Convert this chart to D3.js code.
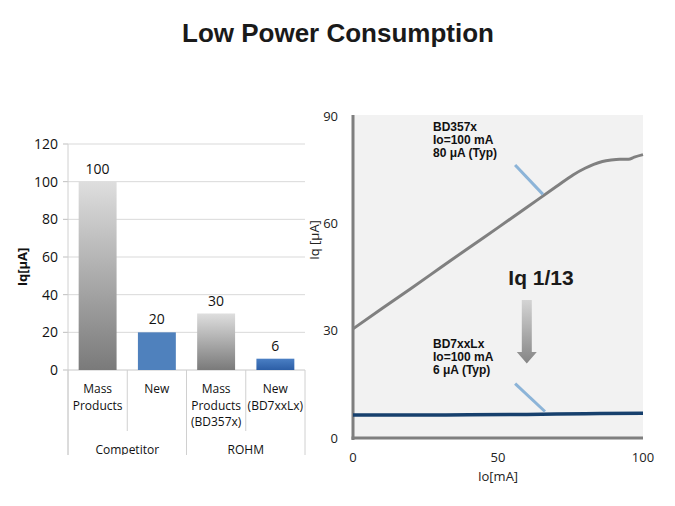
<!DOCTYPE html>
<html><head><meta charset="utf-8">
<script src="https://cdn.jsdelivr.net/npm/d3@7"></script>
<style>body{margin:0;background:#fff}svg{display:block}</style>
</head><body>
<script>
// ---- data ----
const title = "Low Power Consumption";
const barCategories = [["Mass","Products"],["New"],["Mass","Products","(BD357x)"],["New","(BD7xxLx)"]];
const barValues = [100, 20, 30, 6];
const barStyles = ["grayGrad","blue","grayGrad","blueGrad"];
const groups = ["Competitor","ROHM"];
const barTicks = [0,20,40,60,80,100,120];

const lineTicksY = [0,30,60,90];
const lineTicksX = [0,50,100];
const bd357x = [[0,30.5],[10,36.2],[20,41.8],[30,47.5],[40,53.2],[50,58.8],[60,64.5],[70,70.2],[76,73.6],[80,75.4],[83,76.5],[86,77.3],[89,77.7],[92,77.9],[95,77.9],[97,78.5],[100,79.2]];
const bd7xxlx = [[0,6.4],[20,6.4],[40,6.5],[60,6.6],[80,6.8],[100,6.9]];
const noteTop = ["BD357x","Io=100 mA","80 μA  (Typ)"];
const noteBottom = ["BD7xxLx","Io=100 mA","6 μA (Typ)"];
const pointerTop = [[55.9,76.3],[65.5,68.1]];
const pointerBottom = [[55.9,15.2],[66.2,7.4]];

const W = 675, H = 506;
const svg = d3.select("body").append("svg").attr("width", W).attr("height", H);
const defs = svg.append("defs");
function vgrad(id, top, bottom){
  const g = defs.append("linearGradient").attr("id", id).attr("x1",0).attr("y1",0).attr("x2",0).attr("y2",1);
  g.append("stop").attr("offset","0%").attr("stop-color", top);
  g.append("stop").attr("offset","100%").attr("stop-color", bottom);
}
vgrad("grayGrad", "#dedede", "#7a7a7a");
vgrad("blueGrad", "#4a7fc4", "#2c5ea6");
vgrad("arrowGrad", "#d4d4d4", "#858585");

// ---- title ----
svg.append("text").attr("x", 338).attr("y", 41.5).attr("text-anchor","middle")
  .attr("font-family","'Liberation Sans', Arial, sans-serif").attr("font-weight","bold")
  .attr("font-size", 26).attr("fill","#1a1a1a").text(title);

// ---- left bar chart ----
const bx = d3.scaleBand().domain(d3.range(barValues.length)).range([68, 305]).paddingInner(0.36).paddingOuter(0.18);
const by = d3.scaleLinear().domain([0,120]).range([370, 144]);
const L = svg.append("g");
const fontL = "'Open Sans', sans-serif";

L.selectAll("line.grid").data(barTicks.filter(d=>d>0)).join("line")
  .attr("x1", 68).attr("x2", 305).attr("y1", d=>by(d)).attr("y2", d=>by(d))
  .attr("stroke","#d9d9d9").attr("stroke-width",1);
L.selectAll("line.tk").data(barTicks).join("line")
  .attr("x1", 63).attr("x2", 68).attr("y1", d=>by(d)).attr("y2", d=>by(d))
  .attr("stroke","#bfbfbf");
L.append("line").attr("x1",68).attr("x2",68).attr("y1",by(120)).attr("y2",455).attr("stroke","#d0d0d0");
L.append("line").attr("x1",68).attr("x2",305).attr("y1",by(0)).attr("y2",by(0)).attr("stroke","#c8c8c8");
L.selectAll("text.tick").data(barTicks).join("text")
  .attr("x", 58).attr("y", d=>by(d)).attr("dy","0.36em").attr("text-anchor","end")
  .attr("font-family", fontL).attr("font-size", 14).attr("fill","#111").text(d=>d);

const fills = {grayGrad:"url(#grayGrad)", blue:"#4f81bd", blueGrad:"url(#blueGrad)"};
L.selectAll("rect.bar").data(barValues).join("rect")
  .attr("x", (d,i)=>bx(i)).attr("width", bx.bandwidth())
  .attr("y", d=>by(d)).attr("height", d=>by(0)-by(d))
  .attr("fill", (d,i)=>fills[barStyles[i]]);
L.selectAll("text.val").data(barValues).join("text")
  .attr("x", (d,i)=>bx(i)+bx.bandwidth()/2).attr("y", d=>by(d)-8).attr("text-anchor","middle")
  .attr("font-family", fontL).attr("font-size", 14).attr("fill","#111").text(d=>d);

// category separators
const step = bx.step();
const bounds = d3.range(barValues.length+1).map(i=>68 + i*step);
bounds.forEach((b,i)=>{
  const long = (i % 2 === 0);
  L.append("line").attr("x1",b).attr("x2",b).attr("y1",by(0)).attr("y2", long?455:431)
    .attr("stroke","#d0d0d0");
});
barCategories.forEach((lines,i)=>{
  lines.forEach((t,j)=>{
    L.append("text").attr("x", bx(i)+bx.bandwidth()/2).attr("y", 393 + j*16.5)
      .attr("text-anchor","middle").attr("font-family", fontL).attr("font-size",12).attr("fill","#111").text(t);
  });
});
defs.append("clipPath").attr("id","clipL").append("rect").attr("x",0).attr("y",0).attr("width",320).attr("height",455);
groups.forEach((g,i)=>{
  L.append("text").attr("clip-path","url(#clipL)").attr("x", 68 + step*(2*i+1)).attr("y", 454)
    .attr("text-anchor","middle").attr("font-family", fontL).attr("font-size",12).attr("fill","#111").text(g);
});
L.append("text").attr("transform","translate(27,267) rotate(-90)").attr("text-anchor","middle")
  .attr("font-family", fontL).attr("font-weight","bold").attr("font-size",13).attr("fill","#111").text("Iq[μA]");

// ---- right line chart ----
const lx = d3.scaleLinear().domain([0,100]).range([353, 643]);
const ly = d3.scaleLinear().domain([0,90]).range([438, 116]);
const R = svg.append("g");
R.append("rect").attr("x", lx(0)).attr("y", ly(90)-1).attr("width", lx(100)-lx(0)).attr("height", ly(0)-ly(90)+1).attr("fill","#f2f2f2");
R.append("line").attr("x1", lx(0)).attr("x2", lx(0)).attr("y1", ly(90)-1).attr("y2", ly(0)+2).attr("stroke","#7f7f7f").attr("stroke-width",3);
R.append("line").attr("x1", lx(0)-1.5).attr("x2", lx(100)).attr("y1", ly(0)).attr("y2", ly(0)).attr("stroke","#7f7f7f").attr("stroke-width",3);
const fontR = "'Open Sans', sans-serif";
R.selectAll("text.yt").data(lineTicksY).join("text")
  .attr("x", 338).attr("y", d=>ly(d)).attr("dy","0.36em").attr("text-anchor","end")
  .attr("font-family", fontR).attr("font-size",13).attr("fill","#222").text(d=>d);
R.selectAll("text.xt").data(lineTicksX).join("text")
  .attr("x", d=>lx(d)).attr("y", 462).attr("text-anchor","middle")
  .attr("font-family", fontR).attr("font-size",13).attr("fill","#222").text(d=>d);
R.append("text").attr("x", lx(50)).attr("y", 481).attr("text-anchor","middle")
  .attr("font-family", fontR).attr("font-size",13).attr("fill","#222").text("Io[mA]");
R.append("text").attr("transform","translate(319,240) rotate(-90)").attr("text-anchor","middle")
  .attr("font-family", fontR).attr("font-size",13).attr("fill","#222").text("Iq [μA]");

const line = d3.line().x(d=>lx(d[0])).y(d=>ly(d[1])).curve(d3.curveMonotoneX);
R.append("path").attr("d", line(bd357x)).attr("fill","none").attr("stroke","#808080").attr("stroke-width",3);
R.append("path").attr("d", line(bd7xxlx)).attr("fill","none").attr("stroke","#17406d").attr("stroke-width",3.5);

const pl = d3.line().x(d=>lx(d[0])).y(d=>ly(d[1]));
[pointerTop, pointerBottom].forEach(p=>{
  R.append("path").attr("d", pl(p)).attr("stroke","#8cb4d8").attr("stroke-width",3).attr("fill","none");
});

const fontA = "'Liberation Sans', Arial, sans-serif";
function note(lines, x, y0){
  lines.forEach((t,j)=>{
    R.append("text").attr("x", x).attr("y", y0 + j*13).attr("font-family", fontA)
      .attr("font-weight","bold").attr("font-size",12).attr("fill","#111").text(t);
  });
}
note(noteTop, 433, 130.5);
note(noteBottom, 433, 347.5);

R.append("text").attr("x", 541).attr("y", 285).attr("text-anchor","middle")
  .attr("font-family", fontA).attr("font-weight","bold").attr("font-size",21).attr("fill","#1a1a1a").text("Iq 1/13");

// arrow
const ax = 526.8;
const arrowPts = [[ax-5,300],[ax+5,300],[ax+5,352],[ax+10,352],[ax,363.5],[ax-10,352],[ax-5,352]];
R.append("path").attr("d", d3.line()(arrowPts)+"Z").attr("fill","url(#arrowGrad)");
</script>
</body></html>
